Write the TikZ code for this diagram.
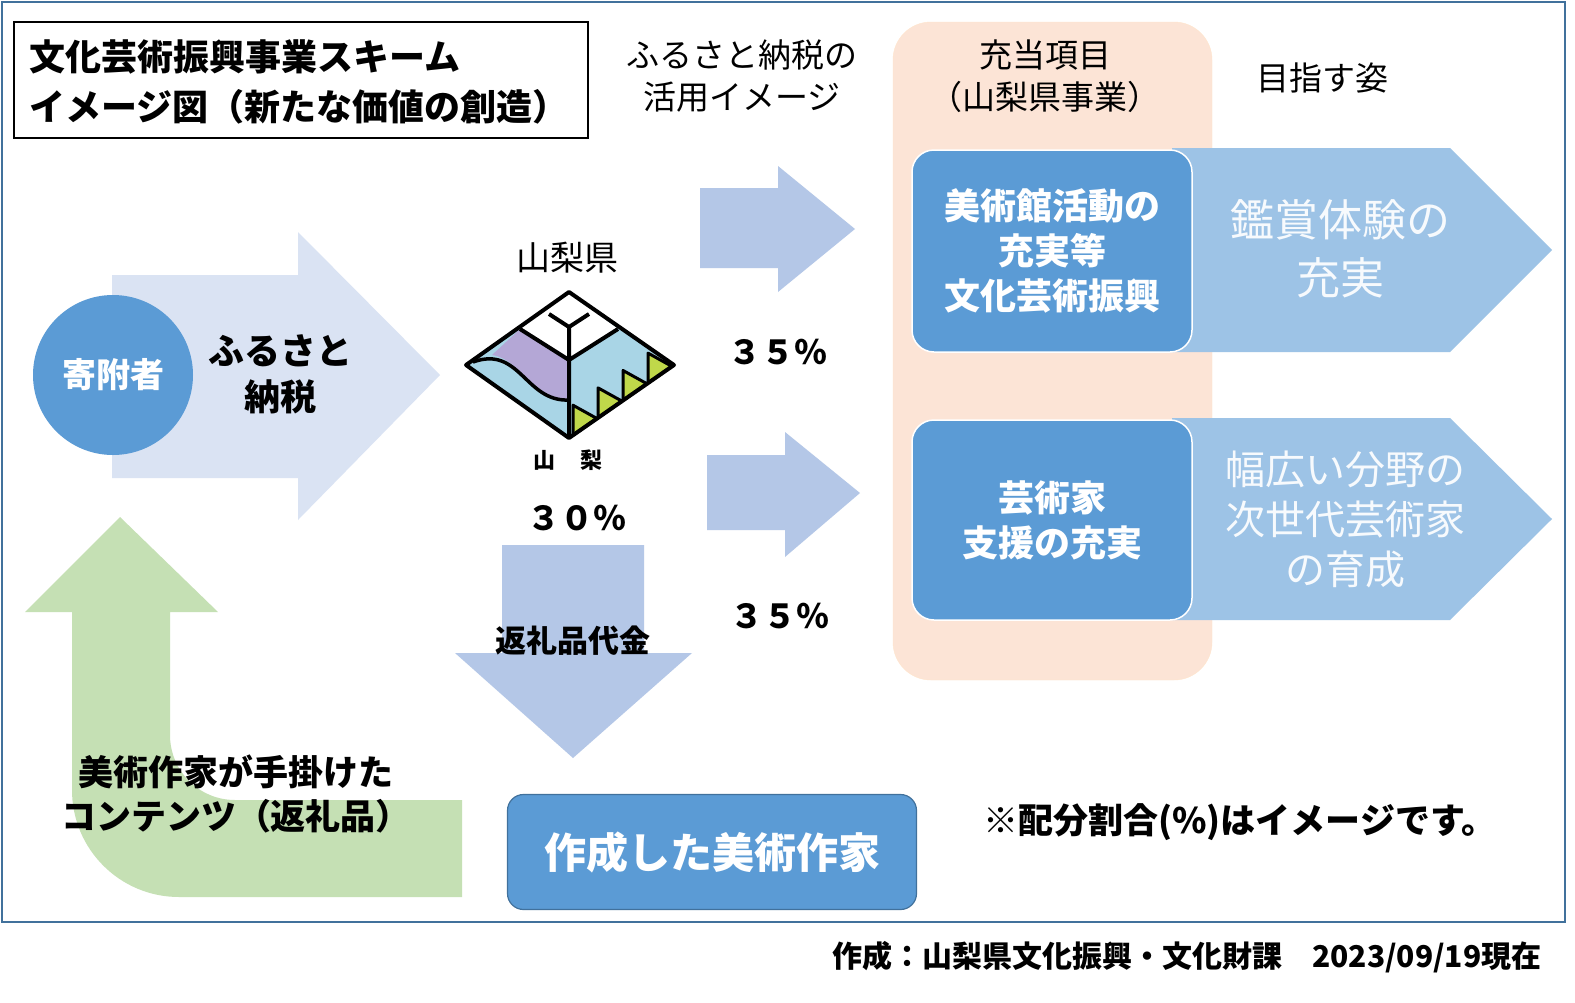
\documentclass[tikz,border=0pt]{standalone}
\usepackage{fontspec}
\setmainfont{Noto Sans CJK JP}
\usetikzlibrary{positioning}
\definecolor{frameblue}{HTML}{41719C}
\definecolor{midblue}{HTML}{5B9BD5}
\definecolor{paleblue}{HTML}{DAE3F3}
\definecolor{arrowblue}{HTML}{B4C7E7}
\definecolor{chevblue}{HTML}{9DC3E6}
\definecolor{peach}{HTML}{FCE4D6}
\definecolor{leafgreen}{HTML}{C5E0B4}
\definecolor{logopurple}{HTML}{B4A7D6}
\definecolor{logoblue}{HTML}{A9D5E6}
\definecolor{logogreen}{HTML}{C0D84A}
\tikzset{
  big/.style={font=\fontsize{34}{42}\selectfont\bfseries,align=center},
  plain/.style={font=\fontsize{33}{42}\selectfont,align=center},
  bluebox/.style={draw=white,line width=1.5pt,fill=midblue,rounded corners=22pt,text=white},
  goal/.style={font=\fontsize{40}{56}\selectfont,text=white!92!chevblue,align=center},
  logoline/.style={line width=4pt,line join=round}
}
\begin{document}
\begin{tikzpicture}[x=1pt,y=-1pt]
\useasboundingbox (0,0) rectangle (1575,1002);
\fill[white] (0,0) rectangle (1575,1002);
\draw[frameblue,line width=2pt] (2,2) rectangle (1565,922);
% title
\draw[line width=1.5pt] (14,22) rectangle (588,138);
\node[font=\fontsize{36}{50}\selectfont\bfseries,align=left,anchor=west] (title) at (26,82) {文化芸術振興事業スキーム\\イメージ図（新たな価値の創造）};
\node[plain] (usage) at (742,76) {ふるさと納税の\\活用イメージ};
% allotment column
\fill[peach,draw=orange!20] (893,22) [rounded corners=38pt] rectangle (1212,680);
\node[plain] (allot) at (1045,76) {充当項目\\（山梨県事業）};
\node[plain] (goalhead) at (1322,78) {目指す姿};
% donation arrow
\fill[paleblue] (112,275) -- (298,275) -- (298,232) -- (440,375) -- (298,520) -- (298,478) -- (112,478) -- cycle;
\node[circle,fill=midblue,minimum size=160pt,text=white,font=\fontsize{34}{40}\selectfont\bfseries] (donor) at (113,375) {寄附者};
\node[big,font=\fontsize{36}{46}\selectfont\bfseries] (furusato) at (280,374) {ふるさと\\納税};
% prefecture logo
\node[plain,font=\fontsize{34}{40}\selectfont] (pref) at (567,258) {山梨県};
\fill[logoblue] (466,365) -- (569,292) -- (674,365) -- (569,438) -- cycle;
\fill[white] (520,329) -- (569,292) -- (618,329) -- (569,360) -- cycle;
\fill[logopurple] (520,329) -- (569,360) -- (569,400) .. controls (530,405) and (525,360) .. (492,355) -- cycle;
\foreach \t in {573,598,623,648}
  \fill[logogreen,draw=black,logoline,line width=3pt] (\t,{438-(\t-569)*73/105}) -- (\t,{438-(\t-569)*73/105-30}) -- ({\t+24},{438-(\t+24-569)*73/105}) -- cycle;
\draw[logoline] (520,329) -- (569,360) -- (618,329) (549,314) -- (569,327) -- (589,314) (569,327) -- (569,438);
\draw[logoline,line width=3.5pt] (473,362) .. controls (520,345) and (525,402) .. (569,400);
\draw[logoline] (466,365) -- (569,292) -- (674,365) -- (569,438) -- cycle;
\node[font=\fontsize{22}{26}\selectfont\bfseries] (logoname) at (568,460) {山\hspace{26pt}梨};
\node[font=\fontsize{33}{40}\selectfont\bfseries] (share30) at (577,518) {３０％};
% allocation arrows
\fill[arrowblue] (700,188) -- (778,188) -- (778,166) -- (855,229) -- (778,292) -- (778,268) -- (700,268) -- cycle;
\fill[arrowblue] (707,455) -- (785,455) -- (785,432) -- (860,493) -- (785,557) -- (785,530) -- (707,530) -- cycle;
\node[font=\fontsize{33}{40}\selectfont\bfseries] (share35a) at (778,352) {３５％};
\node[font=\fontsize{33}{40}\selectfont\bfseries] (share35b) at (780,616) {３５％};
\fill[arrowblue] (502,545) -- (644,545) -- (644,653) -- (692,653) -- (573,758) -- (455,653) -- (502,653) -- cycle;
\node[big,font=\fontsize{31}{36}\selectfont\bfseries] (gift) at (573,641) {返礼品代金};
% goals
\fill[chevblue] (1172,148) -- (1450,148) -- (1552,250) -- (1450,352) -- (1172,352) -- cycle;
\fill[chevblue] (1172,418) -- (1450,418) -- (1552,519) -- (1450,620) -- (1172,620) -- cycle;
\node[bluebox,minimum width=280pt,minimum height=202pt,big,font=\fontsize{36}{45}\selectfont\bfseries] (museum) at (1052,251) {美術館活動の\\充実等\\文化芸術振興};
\node[bluebox,minimum width=280pt,minimum height=200pt,big,font=\fontsize{36}{45}\selectfont\bfseries] (artist) at (1052,520) {芸術家\\支援の充実};
\node[goal,font=\fontsize{44}{58}\selectfont] (goal1) at (1340,249) {鑑賞体験の\\充実};
\node[goal,font=\fontsize{40}{50}\selectfont] (goal2) at (1345,519) {幅広い分野の\\次世代芸術家\\の育成};
% return gifts
\fill[leafgreen] (120,517) -- (218,612) -- (170,612) -- (170,735) arc[start angle=180,end angle=90,radius=65] -- (462,800) -- (462,897) -- (179,897) arc[start angle=90,end angle=180,radius=107] -- (72,612) -- (25,612) -- cycle;
\node[big,font=\fontsize{35}{44}\selectfont\bfseries] (contents) at (236,794) {美術作家が手掛けた\\コンテンツ（返礼品）};
\node[bluebox,draw=frameblue,line width=1.2pt,rounded corners=16pt,minimum width=409pt,minimum height=115pt,font=\fontsize{42}{50}\selectfont\bfseries] (maker) at (712,852) {作成した美術作家};
\node[big,font=\fontsize{35}{42}\selectfont\bfseries] (note) at (1240,822) {※配分割合(\%)はイメージです。};
\node[font=\fontsize{30}{34}\selectfont\bfseries,anchor=east] (credit) at (1545,957) {作成：山梨県文化振興・文化財課\hspace{30pt}2023/09/19現在};
\end{tikzpicture}
\end{document}
